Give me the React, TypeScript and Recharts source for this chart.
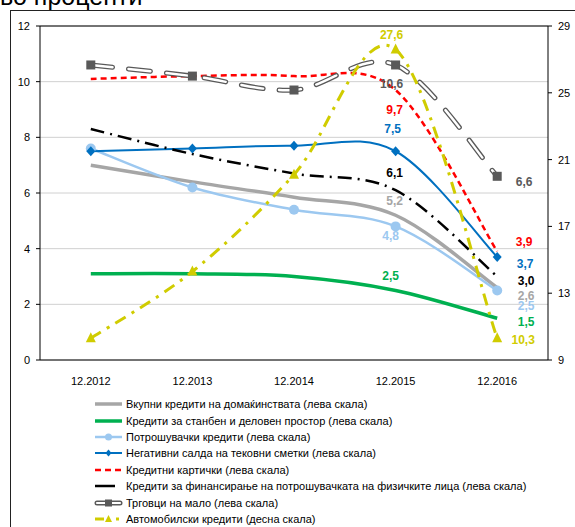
import React from "react";
import {
  LineChart,
  Line,
  XAxis,
  YAxis,
  CartesianGrid,
  ReferenceLine,
  LabelList,
} from "recharts";

const periods = ["12.2012", "12.2013", "12.2014", "12.2015", "12.2016"];
const vkupni = [7.0, 6.4, 5.85, 5.2, 2.6];
const stanben = [3.1, 3.1, 3.0, 2.5, 1.5];
const potrosuvacki = [7.6, 6.2, 5.4, 4.8, 2.5];
const negativni = [7.5, 7.6, 7.7, 7.5, 3.7];
const kartichki = [10.1, 10.2, 10.2, 9.7, 3.9];
const finansiranje = [8.3, 7.4, 6.7, 6.1, 3.0];
const trgovci = [10.6, 10.2, 9.7, 10.6, 6.6];
const avtomobilski = [10.3, 14.3, 20.1, 27.6, 10.3];

const leftTicks = [0, 2, 4, 6, 8, 10, 12];
const rightTicks = [9, 13, 17, 21, 25, 29];

const legendNames = [
  "Вкупни кредити на домаќинствата (лева скала)",
  "Кредити за станбен и деловен простор (лева скала)",
  "Потрошувачки кредити (лева скала)",
  "Негативни салда на тековни сметки (лева скала)",
  "Кредитни картички (лева скала)",
  "Кредити за финансирање на потрошувачката на физичките лица (лева скала)",
  "Трговци на мало (лева скала)",
  "Автомобилски кредити (десна скала)",
];

const data = periods.map((p, i) => ({
  p,
  vkupni: vkupni[i],
  stanben: stanben[i],
  potrosuvacki: potrosuvacki[i],
  negativni: negativni[i],
  kartichki: kartichki[i],
  finansiranje: finansiranje[i],
  trgovci: trgovci[i],
  avtomobilski: avtomobilski[i],
}));

const FONT = "'Liberation Sans', Arial, sans-serif";
const GRAY = "#a6a6a6";
const GREEN = "#00b050";
const LIGHTBLUE = "#9cc8f0";
const BLUE = "#0070c0";
const RED = "#ff0000";
const DARK = "#595959";
const YELLOW = "#d0cc00";

// Excel-style smoothed line (bezier through points, tangents from neighbours)
function excelSmooth(context: any) {
  let pts: [number, number][] = [];
  return {
    areaStart() {},
    areaEnd() {},
    lineStart() {
      pts = [];
    },
    lineEnd() {
      if (!pts.length) return;
      context.moveTo(pts[0][0], pts[0][1]);
      for (let i = 0; i < pts.length - 1; i++) {
        const p0 = pts[i - 1] || pts[i];
        const p1 = pts[i];
        const p2 = pts[i + 1];
        const p3 = pts[i + 2] || p2;
        context.bezierCurveTo(
          p1[0] + (p2[0] - p0[0]) / 6,
          p1[1] + (p2[1] - p0[1]) / 6,
          p2[0] - (p3[0] - p1[0]) / 6,
          p2[1] - (p3[1] - p1[1]) / 6,
          p2[0],
          p2[1]
        );
      }
    },
    point(x: number, y: number) {
      pts.push([+x, +y]);
    },
  };
}

const fmt = (v: number) => v.toFixed(1).replace(".", ",");

// labels only on the last two periods, offset per series
function endLabels(color: string, offsets: Record<number, [number, number]>) {
  return (props: any) => {
    const off = offsets[props.index];
    const x = props.x ?? props.viewBox?.x;
    const y = props.y ?? props.viewBox?.y;
    if (!off || props.value == null || x == null) return null;
    return (
      <text
        x={x + off[0]}
        y={y + off[1]}
        fill={color}
        fontSize={12}
        fontWeight="bold"
        fontFamily={FONT}
        textAnchor="middle"
        dominantBaseline="central"
      >
        {fmt(Number(props.value))}
      </text>
    );
  };
}

const Square = (props: any) => {
  const { cx, cy } = props;
  if (cx == null || cy == null) return null;
  return <rect x={cx - 4.5} y={cy - 4.5} width={9} height={9} fill={DARK} />;
};

const Diamond = (props: any) => {
  const { cx, cy } = props;
  if (cx == null || cy == null) return null;
  return (
    <polygon
      points={`${cx},${cy - 5} ${cx + 4.5},${cy} ${cx},${cy + 5} ${cx - 4.5},${cy}`}
      fill={BLUE}
    />
  );
};

const Circle = (props: any) => {
  const { cx, cy } = props;
  if (cx == null || cy == null) return null;
  return <circle cx={cx} cy={cy} r={5} fill={LIGHTBLUE} />;
};

const Triangle = (props: any) => {
  const { cx, cy } = props;
  if (cx == null || cy == null) return null;
  return (
    <polygon
      points={`${cx},${cy - 6} ${cx + 5},${cy + 4} ${cx - 5},${cy + 4}`}
      fill={YELLOW}
    />
  );
};

function LegendIcon({ i }: { i: number }) {
  const y = 7;
  switch (i) {
    case 0:
      return <line x1={1} x2={28} y1={y} y2={y} stroke={GRAY} strokeWidth={3.5} />;
    case 1:
      return <line x1={1} x2={28} y1={y} y2={y} stroke={GREEN} strokeWidth={3.5} />;
    case 2:
      return (
        <g>
          <line x1={1} x2={28} y1={y} y2={y} stroke={LIGHTBLUE} strokeWidth={2.5} />
          <circle cx={14.5} cy={y} r={3.5} fill={LIGHTBLUE} />
        </g>
      );
    case 3:
      return (
        <g>
          <line x1={1} x2={28} y1={y} y2={y} stroke={BLUE} strokeWidth={2} />
          <polygon points={`14.5,${y - 3.5} 17.5,${y} 14.5,${y + 3.5} 11.5,${y}`} fill={BLUE} />
        </g>
      );
    case 4:
      return (
        <line x1={1} x2={28} y1={y} y2={y} stroke={RED} strokeWidth={2.5} strokeDasharray="6 4" />
      );
    case 5:
      return <line x1={1} x2={21} y1={y} y2={y} stroke="#000" strokeWidth={2.5} />;
    case 6:
      return (
        <g>
          <line x1={3} x2={26} y1={y} y2={y} stroke={DARK} strokeWidth={5} strokeLinecap="round" />
          <line x1={3} x2={26} y1={y} y2={y} stroke="#fff" strokeWidth={2.2} strokeLinecap="round" />
          <rect x={11} y={y - 3.5} width={7} height={7} fill={DARK} />
        </g>
      );
    default:
      return (
        <g>
          <line x1={1} x2={10} y1={y} y2={y} stroke={YELLOW} strokeWidth={3} />
          <polygon points={`14.5,${y - 4} 18,${y + 3} 11,${y + 3}`} fill={YELLOW} />
          <line x1={22} x2={25} y1={y} y2={y} stroke={YELLOW} strokeWidth={3} />
        </g>
      );
  }
}

export default function App() {
  return (
    <div
      style={{
        position: "absolute",
        left: 0,
        top: 0,
        width: 575,
        height: 527,
        overflow: "hidden",
        background: "#fff",
        fontFamily: FONT,
      }}
    >
      <div
        style={{
          position: "absolute",
          left: 0,
          top: -16,
          fontSize: 25,
          lineHeight: "25px",
          color: "#000",
          whiteSpace: "nowrap",
        }}
      >
        во проценти
      </div>
      <div
        style={{
          position: "absolute",
          left: 10,
          top: 10,
          width: 620,
          height: 620,
          border: "1px solid #222",
        }}
      />
      <div style={{ position: "absolute", left: 0, top: 0 }}>
        <LineChart
          width={575}
          height={390}
          data={data}
          margin={{ top: 26, right: 0, bottom: 0, left: 10 }}
        >
          <CartesianGrid vertical={false} stroke="#d0d0d0" yAxisId="left" />
          <XAxis
            dataKey="p"
            scale="band"
            tickLine={false}
            tickMargin={11}
            axisLine={{ stroke: "#000" }}
            tick={{ fontSize: 11, fill: "#000", fontFamily: FONT }}
            height={30}
            interval={0}
          />
          <YAxis
            yAxisId="left"
            domain={[0, 12]}
            ticks={leftTicks}
            width={30}
            tickSize={4}
            tickMargin={6}
            axisLine={{ stroke: "#000" }}
            tickLine={{ stroke: "#000" }}
            tick={{ fontSize: 11, fill: "#000", fontFamily: FONT }}
          />
          <YAxis
            yAxisId="right"
            orientation="right"
            domain={[9, 29]}
            ticks={rightTicks}
            width={27}
            tickSize={4}
            tickMargin={6}
            axisLine={{ stroke: "#000" }}
            tickLine={{ stroke: "#000" }}
            tick={{ fontSize: 11, fill: "#000", fontFamily: FONT, textAnchor: "start" }}
          />
          <ReferenceLine yAxisId="left" y={12} stroke="#000" />

          <Line
            yAxisId="left"
            type={excelSmooth as any}
            dataKey="vkupni"
            stroke={GRAY}
            strokeWidth={3.5}
            dot={false}
            isAnimationActive={false}
          >
            <LabelList content={endLabels(GRAY, { 3: [-1, -14], 4: [29, 8] })} />
          </Line>
          <Line
            yAxisId="left"
            type={excelSmooth as any}
            dataKey="stanben"
            stroke={GREEN}
            strokeWidth={3.5}
            dot={false}
            isAnimationActive={false}
          >
            <LabelList content={endLabels(GREEN, { 3: [-5, -14], 4: [29, 4] })} />
          </Line>
          <Line
            yAxisId="left"
            type={excelSmooth as any}
            dataKey="potrosuvacki"
            stroke={LIGHTBLUE}
            strokeWidth={2.5}
            dot={<Circle />}
            isAnimationActive={false}
          >
            <LabelList content={endLabels(LIGHTBLUE, { 3: [-5, 10], 4: [29, 16] })} />
          </Line>
          <Line
            yAxisId="left"
            type={excelSmooth as any}
            dataKey="negativni"
            stroke={BLUE}
            strokeWidth={2}
            dot={<Diamond />}
            isAnimationActive={false}
          >
            <LabelList content={endLabels(BLUE, { 3: [-3, -22], 4: [28, 7] })} />
          </Line>
          <Line
            yAxisId="left"
            type={excelSmooth as any}
            dataKey="kartichki"
            stroke={RED}
            strokeWidth={2.5}
            strokeDasharray="6 4"
            dot={false}
            isAnimationActive={false}
          >
            <LabelList content={endLabels(RED, { 3: [-1, 20], 4: [27, -9] })} />
          </Line>
          <Line
            yAxisId="left"
            type={excelSmooth as any}
            dataKey="finansiranje"
            stroke="#000"
            strokeWidth={2.5}
            strokeDasharray="14 6 2 6"
            dot={false}
            isAnimationActive={false}
          >
            <LabelList content={endLabels("#000", { 3: [-1, -17], 4: [29, 4] })} />
          </Line>
          <Line
            yAxisId="left"
            type={excelSmooth as any}
            dataKey="trgovci"
            stroke={DARK}
            strokeWidth={5}
            strokeDasharray="22 16"
            strokeLinecap="round"
            dot={false}
            isAnimationActive={false}
          />
          <Line
            yAxisId="left"
            type={excelSmooth as any}
            dataKey="trgovci"
            stroke="#fff"
            strokeWidth={2.4}
            strokeDasharray="22 16"
            strokeLinecap="round"
            dot={false}
            isAnimationActive={false}
          />
          <Line
            yAxisId="left"
            type={excelSmooth as any}
            dataKey="trgovci"
            stroke="none"
            dot={<Square />}
            isAnimationActive={false}
          >
            <LabelList content={endLabels(DARK, { 3: [-4, 19], 4: [27, 6] })} />
          </Line>
          <Line
            yAxisId="right"
            type={excelSmooth as any}
            dataKey="avtomobilski"
            stroke={YELLOW}
            strokeWidth={3}
            strokeDasharray="12 7 3 7"
            dot={<Triangle />}
            isAnimationActive={false}
          >
            <LabelList content={endLabels(YELLOW, { 3: [-4, -14], 4: [26, 2] })} />
          </Line>
        </LineChart>
      </div>
      <div style={{ position: "absolute", left: 94, top: 396 }}>
        {legendNames.map((name, i) => (
          <div
            key={name}
            style={{
              display: "flex",
              alignItems: "center",
              height: 16.4,
              fontSize: 11,
              color: "#000",
              whiteSpace: "nowrap",
            }}
          >
            <svg width={30} height={14} style={{ marginRight: 2 }}>
              <LegendIcon i={i} />
            </svg>
            <span>{name}</span>
          </div>
        ))}
      </div>
    </div>
  );
}
